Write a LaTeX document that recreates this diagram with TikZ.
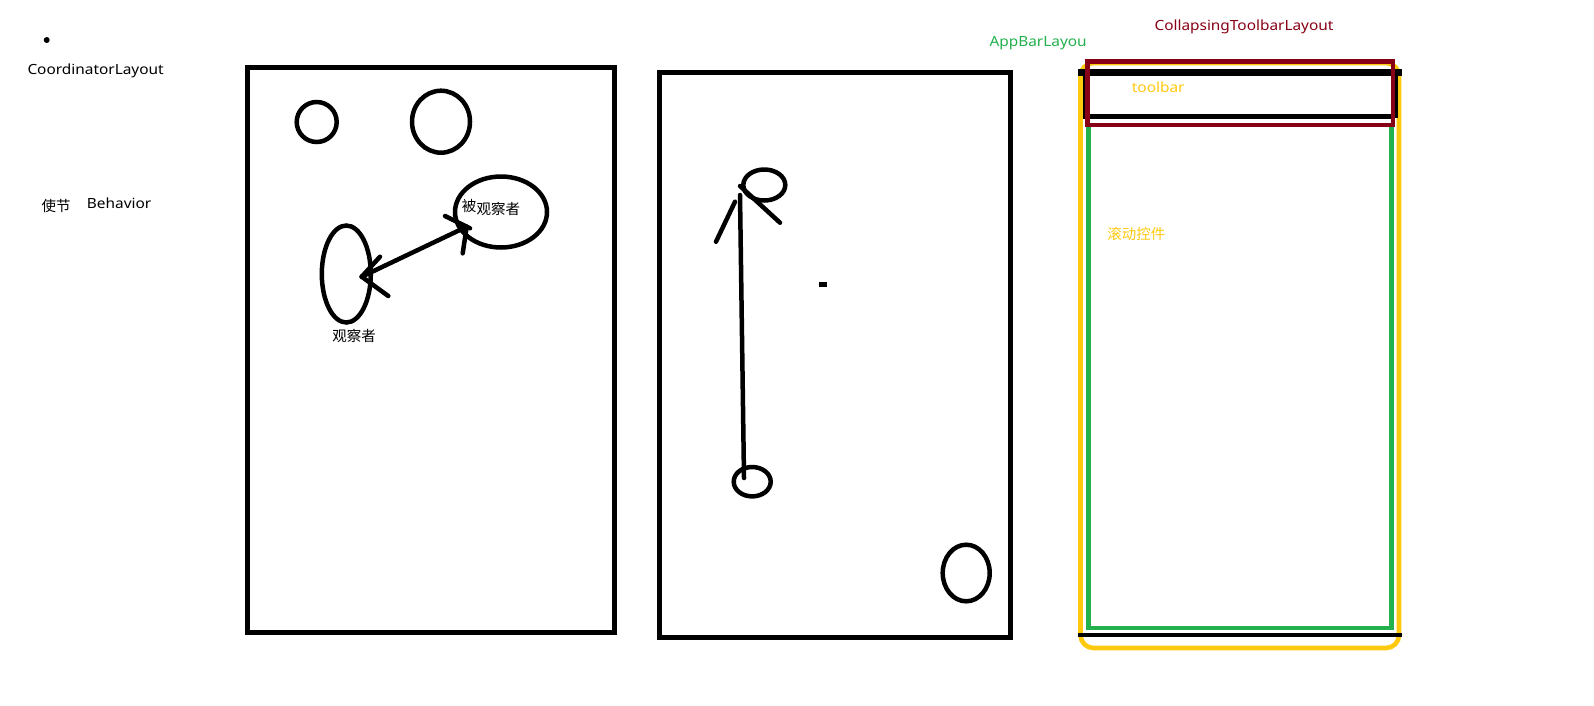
\documentclass[tikz,border=0pt]{standalone}
\usepackage{fontspec}
\setmainfont{Noto Sans}[FakeStretch=1.1]
\newfontfamily\cjk{Noto Sans CJK SC}
\usetikzlibrary{shapes.geometric}
\definecolor{pgreen}{HTML}{22B14C}
\definecolor{pyellow}{HTML}{FFC90E}
\definecolor{pmaroon}{HTML}{880015}
\begin{document}
\begin{tikzpicture}[x=1pt,y=-1pt,
  pen/.style={line width=5pt, draw=black},
  penthin/.style={line width=4.5pt, draw=black, line cap=round},
  panel/.style={rectangle, draw=black, line width=5pt, inner sep=0pt},
  oval/.style={ellipse, draw=black, line width=4.5pt, inner sep=0pt},
  lbl/.style={inner sep=0pt, anchor=base west, font=\fontsize{14}{16}\selectfont},
  cjklbl/.style={inner sep=0pt, font=\cjk\fontsize{14.5}{16}\selectfont},
]
\useasboundingbox (0,0) rectangle (1594,705);
\fill[white] (0,0) rectangle (1594,705);

% left legend
\node[circle, fill=black, inner sep=0pt, minimum size=6pt] (dot) at (46.7,40) {};
\node[lbl] (coordlbl) at (27.3,74.5) {CoordinatorLayout};
\node[cjklbl] (shijie) at (56,206) {使节};
\node[lbl] (behavior) at (86.7,208.3) {Behavior};

% panel 1
\node[panel, minimum width=366.5pt, minimum height=564.8pt] (p1) at (430.75,349.9) {};
\node[oval, minimum width=40pt, minimum height=40pt] (c1) at (316.7,122) {};
\node[oval, minimum width=58pt, minimum height=62pt] (c2) at (441,121.7) {};
\node[oval, minimum width=49pt, minimum height=97pt] (obs) at (346.3,274) {};
\node[oval, minimum width=92pt, minimum height=71pt] (obsd) at (501,212) {};
\node[cjklbl] (obslbl) at (354,335.5) {观察者};
\node[cjklbl] (bei) at (469,205.5) {被};
\node[cjklbl] (obsdlbl) at (498.3,209) {观察者};
\coordinate (tipL) at (361.7,276.7);
\coordinate (tipR) at (466.7,226.7);
\draw[penthin] (tipL) -- (tipR);
\draw[penthin] (tipL) -- (380,256.7);
\draw[penthin] (tipL) -- (388.3,296);
\draw[penthin] (445,216) -- (470,228.3);
\draw[penthin] (462.7,253.3) -- (tipR);

% panel 2
\node[panel, minimum width=351.8pt, minimum height=565.5pt] (p2) at (834.9,354.75) {};
\node[oval, minimum width=42pt, minimum height=31pt] (top) at (764.3,185) {};
\node[oval, minimum width=37pt, minimum height=29.4pt] (bot) at (752.2,481.7) {};
\node[oval, minimum width=47pt, minimum height=56.6pt] (br) at (966.2,573) {};
\node[rectangle, fill=black, inner sep=0pt, minimum width=8pt, minimum height=5.6pt] (sq) at (823.3,284.5) {};
\coordinate (vtop) at (740,195);
\coordinate (vbot) at (744,478);
\draw[penthin] (vbot) -- (vtop);
\draw[penthin] (735,201.7) -- (716,241.7);
\draw[penthin] (740,186) -- (780,222.7);

% panel 3
\draw[pyellow, line width=4.6pt, rounded corners=13pt] (1080.5,63) rectangle (1399,648);
\draw[black, line width=3pt] (1084,72) rectangle (1396,116);
\draw[black, line width=7pt] (1078,72) -- (1401.7,72);
\draw[black, line width=5pt] (1083,116) -- (1395,116);
\draw[black, line width=4.6pt] (1078,635) -- (1401.7,635);
\node[rectangle, draw=pgreen, line width=4.6pt, inner sep=0pt, minimum width=303.4pt, minimum height=503pt] (scroll) at (1240,376.5) {};
\node[rectangle, draw=pmaroon, line width=4.7pt, inner sep=0pt, minimum width=305.5pt, minimum height=63.3pt] (ctl) at (1240.25,93.35) {};
\node[lbl, text=pgreen] (appbar) at (989.3,46.7) {AppBarLayou};
\node[lbl, text=pmaroon] (ctllbl) at (1154.3,30.7) {CollapsingToolbarLayout};
\node[lbl, text=pyellow] (toolbar) at (1131.7,92.7) {toolbar};
\node[cjklbl, text=pyellow] (scrolllbl) at (1136.3,234) {滚动控件};
\end{tikzpicture}
\end{document}
